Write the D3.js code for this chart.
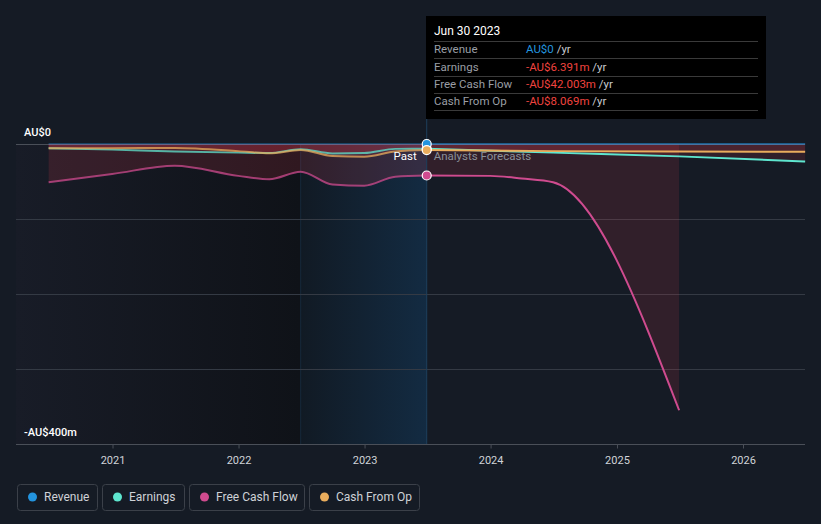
<!DOCTYPE html>
<html><head><meta charset="utf-8">
<script src="https://cdn.jsdelivr.net/npm/d3@7"></script>
<style>
html,body{margin:0;padding:0;background:#151b25;}
svg{display:block;font-family:Roboto,"Open Sans",sans-serif;}
</style></head>
<body>
<svg id="c" width="821" height="524"></svg>
<script>
// ---- data (AU$ millions) ----
const pastDates = ["2020-06-30","2020-12-31","2021-06-30","2021-12-31","2022-03-31","2022-06-30","2022-09-30","2022-12-31","2023-03-31","2023-06-30"];
const pastRevenue = [0,0,0,0,0,0,0,0,0,0];
const pastEarnings = [-5.5,-7.5,-10,-11.5,-12,-7,-12.5,-12,-6.5,-6.391];
const pastFCF = [-51,-40,-29,-42.5,-47,-37,-54,-55.6,-43.6,-42.003];
const pastCFO = [-5.7,-5.5,-5.3,-9.5,-12.4,-8,-16,-17,-10,-8.069];

const fcDates = ["2023-06-30","2024-06-30","2025-06-30","2026-06-30"];
const fcRevenue = [0,0,0,0];
const fcEarnings = [-6.391,-11.5,-16.5,-23.3];
const fcCFO = [-8.069,-9.5,-10,-10.3];
const fcFCFDates = ["2023-06-30","2023-12-31","2024-03-31","2024-06-30","2025-06-30"];
const fcFCF = [-42.003,-42.5,-46,-51,-355];

const yTicks = [0,-400];
const yTickLabels = ["AU$0","-AU$400m"];
const gridVals = [-100,-200,-300];

const tipDate = "Jun 30 2023";
const tipLabels = ["Revenue","Earnings","Free Cash Flow","Cash From Op"];
const tipValues = ["AU$0","-AU$6.391m","-AU$42.003m","-AU$8.069m"];

const seriesNames = ["Revenue","Earnings","Free Cash Flow","Cash From Op"];
const seriesColors = ["#2394df","#5ee6cf","#cf4b8f","#e9ad5d"];

// ---- setup ----
const svg = d3.select("#c");
const parse = d3.timeParse("%Y-%m-%d");
const x = d3.scaleTime().domain([new Date(2021,0,1), new Date(2026,0,1)]).range([112.5, 743]);
const y = d3.scaleLinear().domain([-400,0]).range([444,144]);
const left = 16, right = 805;
const nowX = x(parse("2023-06-30"));
const bandX = x(parse("2022-06-30"));

const defs = svg.append("defs");
const g1 = defs.append("linearGradient").attr("id","pastG").attr("x1","0").attr("x2","1");
g1.append("stop").attr("offset","0").attr("stop-color","#181c27");
g1.append("stop").attr("offset","1").attr("stop-color","#0f1218");
const g2 = defs.append("linearGradient").attr("id","bandG").attr("x1","0").attr("x2","1");
g2.append("stop").attr("offset","0").attr("stop-color","#111a24");
g2.append("stop").attr("offset","1").attr("stop-color","#132b42");

// past dark region and highlight band
svg.append("rect").attr("x",left).attr("y",y(0)).attr("width",bandX-left).attr("height",y(-400)-y(0)).attr("fill","url(#pastG)");
svg.append("rect").attr("x",bandX).attr("y",y(0)).attr("width",nowX-bandX).attr("height",y(-400)-y(0)).attr("fill","url(#bandG)");
svg.append("line").attr("x1",bandX).attr("x2",bandX).attr("y1",y(0)).attr("y2",y(-400)).attr("stroke","#16283a").attr("stroke-width",1);

// gridlines
svg.selectAll("line.grid").data(gridVals).enter().append("line")
  .attr("x1",left).attr("x2",right).attr("y1",d=>y(d)+0.5).attr("y2",d=>y(d)+0.5)
  .attr("stroke","#343a44").attr("stroke-width",1);
svg.append("line").attr("x1",left).attr("x2",right).attr("y1",y(0)+0.5).attr("y2",y(0)+0.5).attr("stroke","#4a4f58");

// areas
const mk = (dates, vals) => dates.map((d,i)=>({date:parse(d), v:vals[i]}));
const area = d3.area().x(d=>x(d.date)).y0(y(0)).y1(d=>y(d.v)).curve(d3.curveMonotoneX);
const line = d3.line().x(d=>x(d.date)).y(d=>y(d.v)).curve(d3.curveMonotoneX);

const past = [mk(pastDates,pastRevenue), mk(pastDates,pastEarnings), mk(pastDates,pastFCF), mk(pastDates,pastCFO)];
const fc = [mk(fcDates,fcRevenue), mk(fcDates,fcEarnings), mk(fcFCFDates,fcFCF), mk(fcDates,fcCFO)];

[1,2,3].forEach(i=>{
  svg.append("path").attr("d",area(past[i])).attr("fill","#ff3f52").attr("fill-opacity",0.14);
  svg.append("path").attr("d",area(fc[i])).attr("fill","#ff3f52").attr("fill-opacity",0.12);
});

// lines
const order = [0,1,2,3];
order.forEach(i=>{
  svg.append("path").attr("d",line(past[i])).attr("fill","none")
    .attr("stroke",seriesColors[i]).attr("stroke-width",2).attr("stroke-opacity", i===0?0.35:0.75);
});
order.forEach(i=>{
  svg.append("path").attr("d",line(fc[i])).attr("fill","none")
    .attr("stroke",seriesColors[i]).attr("stroke-width",2).attr("stroke-opacity", i===0?0.55:1);
});

// now line
svg.append("line").attr("x1",nowX).attr("x2",nowX).attr("y1",119).attr("y2",y(-400)).attr("stroke","#1d3f5c").attr("stroke-width",1);

// markers
const markerVals = [pastRevenue[9], pastEarnings[9], pastFCF[9], pastCFO[9]];
[1,2,0,3].forEach(i=>{
  svg.append("circle").attr("cx",nowX).attr("cy",y(markerVals[i])).attr("r",4.5)
    .attr("fill",seriesColors[i]).attr("stroke","#ffffff").attr("stroke-width",1.2);
});

// Past / forecast labels
svg.append("text").attr("x",nowX-10).attr("y",160).attr("text-anchor","end").attr("fill","#ffffff").attr("font-size",11.5).text("Past");
svg.append("text").attr("x",nowX+7).attr("y",160).attr("fill","#8b9099").attr("font-size",11.5).text("Analysts Forecasts");

// y labels
svg.selectAll("text.yl").data(yTicks).enter().append("text")
  .attr("x",24).attr("y",d=>y(d)-8).attr("fill","#ffffff").attr("font-size",11).attr("font-weight",500)
  .text((d,i)=>yTickLabels[i]);

// x axis
svg.append("line").attr("x1",left).attr("x2",right).attr("y1",444.5).attr("y2",444.5).attr("stroke","#4a4f58");
const xa = svg.append("g").attr("transform","translate(0,444.5)")
  .call(d3.axisBottom(x).ticks(d3.timeYear.every(1)).tickFormat(d3.timeFormat("%Y")).tickSize(4).tickPadding(8));
xa.select(".domain").remove();
xa.selectAll("line").attr("stroke","#4a4f58");
xa.selectAll("text").attr("fill","#d0d3d8").attr("font-size",11).attr("font-family","Roboto,sans-serif");

// tooltip
const tip = svg.append("g");
tip.append("rect").attr("x",426).attr("y",16).attr("width",340).attr("height",103).attr("fill","#000000");
tip.append("text").attr("x",434).attr("y",35).attr("fill","#ffffff").attr("font-size",12).text(tipDate);
const rowY = [53,71,88,105];
[41.5,58.5,76.5,93.5,110.5].forEach(yy=>{
  tip.append("line").attr("x1",434).attr("x2",758).attr("y1",yy).attr("y2",yy).attr("stroke","#3a3a3a");
});
tipLabels.forEach((l,i)=>{
  tip.append("text").attr("x",434).attr("y",rowY[i]).attr("fill","#9a9ea5").attr("font-size",11.5).text(l);
  const t = tip.append("text").attr("x",526).attr("y",rowY[i]).attr("font-size",11.5);
  t.append("tspan").attr("fill", i===0 ? "#2394df" : "#f0433f").text(tipValues[i]);
  t.append("tspan").attr("fill","#c8cbd0").text(" /yr");
});

// legend
const legX = [17,102,189,309];
const legW = [80,82,115,110];
const leg = svg.append("g");
seriesNames.forEach((n,i)=>{
  leg.append("rect").attr("x",legX[i]+0.5).attr("y",484.5).attr("width",legW[i]).attr("height",26).attr("rx",3)
    .attr("fill","none").attr("stroke","#3b4049");
  leg.append("circle").attr("cx",legX[i]+15.5).attr("cy",497).attr("r",4.5).attr("fill",seriesColors[i]);
  leg.append("text").attr("x",legX[i]+27).attr("y",501).attr("fill","#cfd2d7").attr("font-size",12).text(n);
});
</script>
</body></html>
